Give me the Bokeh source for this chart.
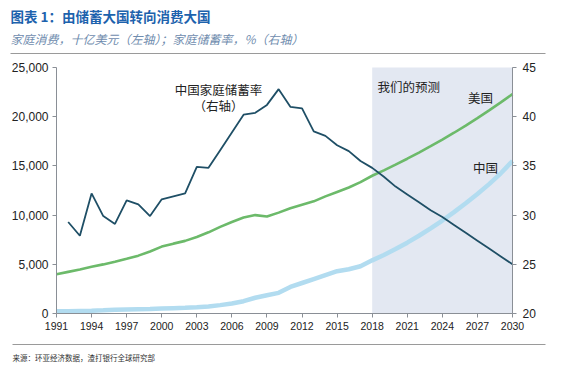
from bokeh.plotting import figure
from bokeh.models import Range1d, LinearAxis, FixedTicker, NumeralTickFormatter, BoxAnnotation
from bokeh.core.properties import value
from bokeh.embed import file_html
from bokeh.resources import INLINE

# ---- data ----
years = list(range(1991, 2031))
us_consumption = [3990, 4230, 4470, 4750, 4990, 5260, 5560, 5880, 6300, 6800,
                  7100, 7380, 7770, 8250, 8800, 9300, 9750, 10000, 9850, 10250,
                  10700, 11050, 11400, 11900, 12350, 12800, 13350, 14000, 14550, 15130,
                  15730, 16350, 17000, 17670, 18370, 19100, 19860, 20640, 21460, 22300]
cn_consumption = [220, 240, 260, 280, 320, 370, 400, 430, 460, 500,
                  540, 580, 630, 720, 850, 1010, 1250, 1600, 1850, 2100,
                  2700, 3100, 3500, 3900, 4300, 4500, 4800, 5400, 5950, 6550,
                  7200, 7900, 8650, 9450, 10300, 11200, 12150, 13150, 14250, 15500]
sav_years = list(range(1992, 2031))
cn_saving_rate = [29.3, 27.9, 32.2, 29.9, 29.1, 31.5, 31.1, 29.9, 31.6, 31.9,
                  32.2, 34.9, 34.8, 36.6, 38.4, 40.2, 40.4, 41.2, 42.8, 41.0,
                  40.85, 38.5, 38.05, 37.1, 36.5, 35.5, 34.8, 33.9, 32.9, 32.1,
                  31.3, 30.5, 29.8, 29.0, 28.2, 27.4, 26.6, 25.8, 25.0]
x_ticks = list(range(1991, 2031, 3))
left_ticks = [0, 5000, 10000, 15000, 20000, 25000]
right_ticks = [20, 25, 30, 35, 40, 45]
x_min, x_max = 1991, 2030
left_min, left_max = 0, 25000
right_min, right_max = 20, 45
forecast_start, forecast_end = 2018, 2030

title_text = "图表 1：由储蓄大国转向消费大国"
subtitle_text = "家庭消费，十亿美元（左轴）；家庭储蓄率，%（右轴）"
source_text = "来源：环亚经济数据，渣打银行全球研究部"
sav_label = ["中国家庭储蓄率", "（右轴）"]
forecast_label = "我们的预测"
us_label = "美国"
cn_label = "中国"

CJK = "Noto Sans CJK SC"
NUM = "Liberation Sans Narrow, Liberation Sans, Arial"
SEP = "#9a9a9a"

W, H = 580, 367
# plot area in page pixels (the frame covers the whole canvas; axes sit at fixed locations)
px_left, px_right, px_top, px_bottom = 56, 512, 67, 313


def dx(px):
    return x_min + (px - px_left) * (x_max - x_min) / (px_right - px_left)


def dy(py):
    return left_min + (px_bottom - py) * (left_max - left_min) / (px_bottom - px_top)


def to_rate(v):
    return right_min + (v - left_min) * (right_max - right_min) / (left_max - left_min)


p = figure(width=W, height=H, output_backend="svg", toolbar_location=None, title=None,
           x_range=Range1d(dx(0), dx(W)), y_range=Range1d(dy(H), dy(0)),
           min_border=0, min_border_left=0, min_border_right=0,
           min_border_top=0, min_border_bottom=0)
p.outline_line_color = None
p.xgrid.visible = False
p.ygrid.visible = False
p.background_fill_color = "white"
p.border_fill_color = "white"
p.extra_y_ranges = {"rate": Range1d(to_rate(dy(H)), to_rate(dy(0)))}

p.add_layout(BoxAnnotation(left=forecast_start, right=forecast_end, bottom=left_min, top=left_max,
                           fill_color="#e3e8f2", fill_alpha=1.0, line_color=None,
                           level="underlay"))

p.line(years, cn_consumption, line_color="#b2dcf0", line_width=4.5)
p.line(years, us_consumption, line_color="#6cba6a", line_width=2.6)
p.line(sav_years, cn_saving_rate, line_color="#1f4f66", line_width=1.8, y_range_name="rate")

axis_color = "#8a8f96"


def style_axis(ax, size):
    ax.axis_line_color = axis_color
    ax.major_tick_line_color = axis_color
    ax.minor_tick_line_color = None
    ax.major_label_text_font = NUM
    ax.major_label_text_font_size = size
    ax.major_label_text_color = "#222222"
    ax.major_tick_in = 0
    ax.major_tick_out = 4


xa = p.xaxis[0]
style_axis(xa, "10.5px")
xa.ticker = FixedTicker(ticks=x_ticks)
xa.major_label_standoff = 4
xa.fixed_location = left_min
xa.bounds = (x_min, x_max)

ya = p.yaxis[0]
style_axis(ya, "12px")
ya.ticker = FixedTicker(ticks=left_ticks)
ya.formatter = NumeralTickFormatter(format="0,0")
ya.major_label_standoff = 4
ya.fixed_location = x_min
ya.bounds = (left_min, left_max)

ra = LinearAxis(y_range_name="rate", ticker=FixedTicker(ticks=right_ticks))
style_axis(ra, "12px")
ra.major_label_standoff = 6
ra.fixed_location = x_max
ra.bounds = (right_min, right_max)
p.add_layout(ra, "right")

# chart annotations
ann_x = [dx(218), dx(218), dx(377), dx(480), dx(485)]
ann_y = [dy(89), dy(105), dy(86), dy(97), dy(167)]
ann_t = [sav_label[0], sav_label[1], forecast_label, us_label, cn_label]
ann_a = ["center", "center", "left", "center", "center"]
p.text(x=ann_x, y=ann_y, text=ann_t, text_align=ann_a, text_font=value(CJK),
       text_font_size="12.5px", text_color="#222222", text_baseline="middle")

# header / footer texts
p.text(x=[dx(10)], y=[dy(15)], text=[title_text], text_font=value(CJK),
       text_font_size="13.5px", text_font_style="bold", text_color="#1d62ad",
       text_baseline="middle")
p.text(x=[dx(10)], y=[dy(38)], text=[subtitle_text], text_font=value(CJK),
       text_font_size="12px", text_font_style="italic", text_color="#6f8cae",
       text_baseline="middle")
p.text(x=[dx(12)], y=[dy(357)], text=[source_text], text_font=value(CJK),
       text_font_size="7.5px", text_color="#333333", text_baseline="middle")

# separator rules
p.line(x=[dx(10), dx(545)], y=[dy(53), dy(53)], line_color=SEP, line_width=1)
p.line(x=[dx(12), dx(545)], y=[dy(344), dy(344)], line_color=SEP, line_width=1)

open("out.html", "w").write(file_html(p, INLINE))
